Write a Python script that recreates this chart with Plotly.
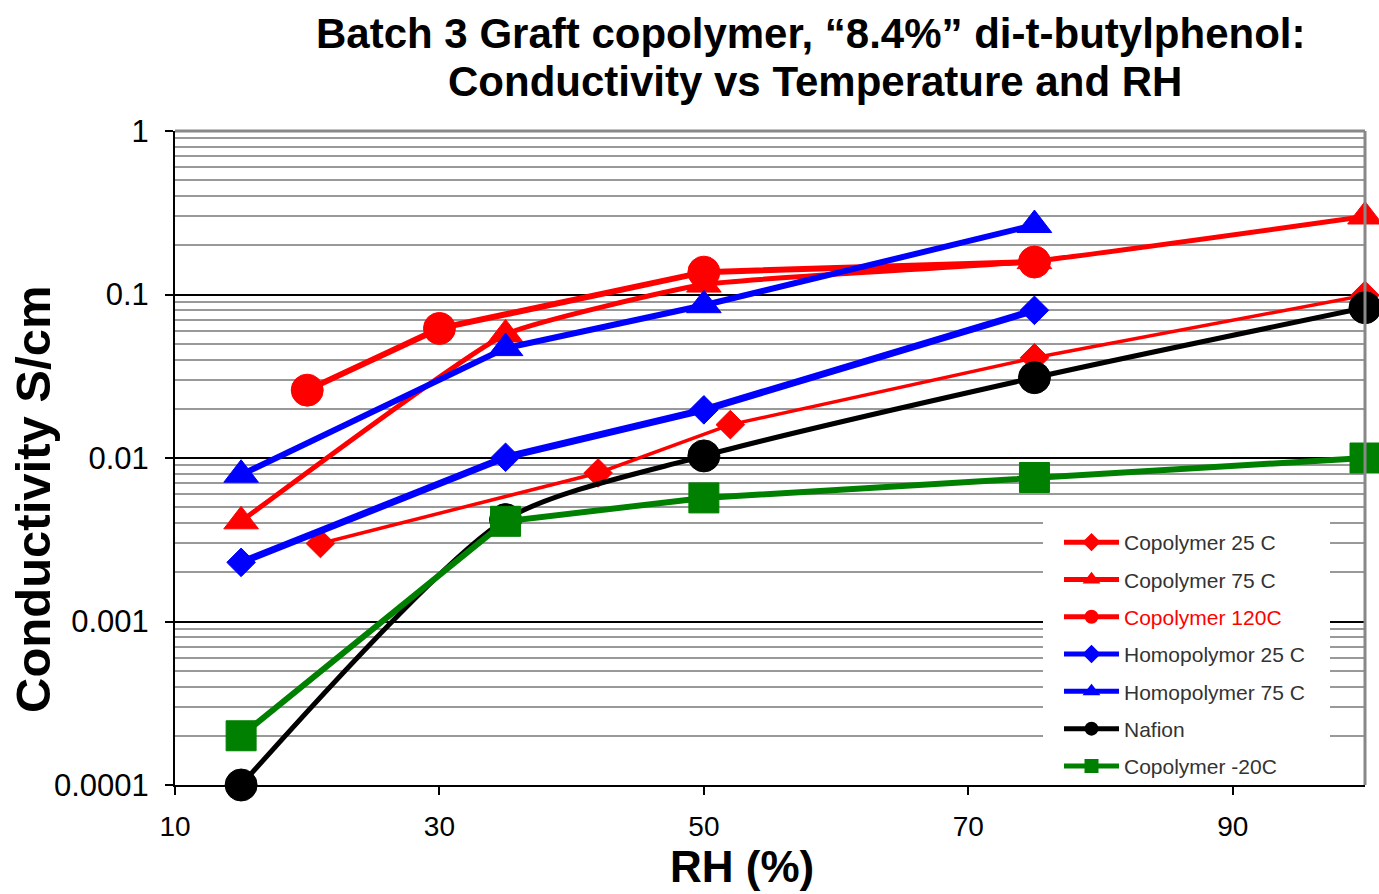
import plotly.graph_objects as go

# Relative humidity (%) and conductivity (S/cm) for each sample
rh_co25 = [21, 42, 52, 75, 100]
sig_co25 = [0.0030, 0.0081, 0.0160, 0.041, 0.099]

rh_co75 = [15, 35, 50, 75, 100]
sig_co75 = [0.0041, 0.057, 0.115, 0.160, 0.30]

rh_co120 = [20, 30, 50, 75]
sig_co120 = [0.026, 0.062, 0.137, 0.158]

rh_homo25 = [15, 35, 50, 75]
sig_homo25 = [0.0023, 0.0101, 0.0197, 0.080]

rh_homo75 = [15, 35, 50, 75]
sig_homo75 = [0.0079, 0.047, 0.086, 0.266]

rh_nafion = [15, 35, 50, 75, 100]
sig_nafion = [0.0001, 0.0042, 0.0103, 0.031, 0.083]

rh_com20 = [15, 35, 50, 75, 100]
sig_com20 = [0.0002, 0.0041, 0.0057, 0.0076, 0.0100]

x_ticks = [10, 30, 50, 70, 90]
y_ticks = [0.0001, 0.001, 0.01, 0.1, 1]
y_tick_text = ["0.0001", "0.001", "0.01", "0.1", "1"]
y_minor = [k * 10.0 ** e for e in range(-4, 0) for k in range(2, 10)]

FONT = "Liberation Sans, Arial, sans-serif"

# Plot area in pixels (left, right, top, bottom)
L, R, T, B = 175, 1365, 131, 785
W, H = 1379, 894


def px_x(p):
    return (p - L) / (R - L)


def px_y(p):
    return (B - p) / (B - T)


# name, x, y, colour, symbol, marker size, line width, smoothing
series = [
    ("Copolymer 25 C", rh_co25, sig_co25, "#ff0000", "diamond", 22, 3.5, 0),
    ("Copolymer 75 C", rh_co75, sig_co75, "#ff0000", "triangle-up", 30, 5, 0.4),
    ("<span style='color:#ff0000'>Copolymer 120C</span>", rh_co120, sig_co120,
     "#ff0000", "circle", 32, 6, 0),
    ("Homopolymor 25 C", rh_homo25, sig_homo25, "#0000ff", "diamond", 22, 7, 0),
    ("Homopolymer 75 C", rh_homo75, sig_homo75, "#0000ff", "triangle-up", 30, 6, 0),
    ("Nafion", rh_nafion, sig_nafion, "#000000", "circle", 32, 5, 0.7),
    ("Copolymer -20C", rh_com20, sig_com20, "#008000", "square", 30, 6, 0),
]

fig = go.Figure()
for i, (name, x, y, color, symbol, size, width, smooth) in enumerate(series):
    line = dict(color=color, width=width)
    if smooth:
        line.update(shape="spline", smoothing=smooth)
    fig.add_trace(go.Scatter(
        x=x, y=y, name=name, mode="lines+markers",
        legendgroup=f"g{i}",
        line=line,
        marker=dict(symbol=symbol, size=size, color=color,
                    line=dict(color=color, width=1)),
        cliponaxis=False,
    ))

fig.update_layout(
    width=W, height=H,
    margin=dict(l=L, r=W - R, t=T, b=H - B),
    paper_bgcolor="white", plot_bgcolor="white",
    font=dict(family=FONT, color="black"),
    showlegend=True,
    legend=dict(
        x=px_x(1059), y=px_y(522), xanchor="left", yanchor="top",
        bgcolor="rgba(255,255,255,0)", borderwidth=0,
        font=dict(size=21, color="#333333", family=FONT),
        tracegroupgap=7, traceorder="grouped",
        itemwidth=55, itemsizing="constant",
    ),
    xaxis=dict(
        range=[10, 100], tickvals=x_ticks, showgrid=False, zeroline=False,
        showline=True, linecolor="black", linewidth=2,
        ticks="outside", ticklen=8, tickwidth=2, tickcolor="black",
        ticklabelstandoff=7,
        tickfont=dict(size=28, family=FONT, color="black"),
    ),
    yaxis=dict(
        type="log", range=[-4, 0], tickvals=y_ticks, ticktext=y_tick_text,
        showgrid=True, gridcolor="black", gridwidth=2, zeroline=False,
        showline=True, linecolor="black", linewidth=2,
        ticks="outside", ticklen=8, tickwidth=2, tickcolor="black",
        ticklabelstandoff=10,
        tickfont=dict(size=31, family=FONT, color="black"),
        minor=dict(tickvals=y_minor, showgrid=True, gridcolor="#999999",
                   gridwidth=2, ticks=""),
    ),
    annotations=[
        dict(text="<b>Batch 3 Graft copolymer, \u201c8.4%\u201d di-t-butylphenol:</b>",
             xref="paper", yref="paper", x=px_x(810), y=px_y(33),
             xanchor="center", yanchor="middle", showarrow=False,
             font=dict(size=42, family=FONT, color="black")),
        dict(text="<b>Conductivity vs Temperature and RH</b>",
             xref="paper", yref="paper", x=px_x(815), y=px_y(81),
             xanchor="center", yanchor="middle", showarrow=False,
             font=dict(size=42, family=FONT, color="black")),
        dict(text="<b>RH (%)</b>", xref="paper", yref="paper",
             x=px_x(742), y=px_y(866), xanchor="center",
             yanchor="middle", showarrow=False,
             font=dict(size=44, family=FONT, color="black")),
        dict(text="<b>Conductivity S/cm</b>", xref="paper", yref="paper",
             x=px_x(33), y=px_y(500), xanchor="center",
             yanchor="middle", textangle=-90, showarrow=False,
             font=dict(size=49, family=FONT, color="black")),
    ],
    shapes=[
        # legend panel
        dict(type="rect", xref="paper", yref="paper", layer="above",
             x0=px_x(1043), x1=px_x(1330), y0=px_y(784), y1=px_y(522),
             fillcolor="white", line=dict(width=0)),
        dict(type="line", xref="paper", yref="paper", x0=1, x1=1, y0=0, y1=1,
             line=dict(color="#888888", width=3)),
        dict(type="line", xref="paper", yref="paper", x0=0, x1=1, y0=1, y1=1,
             line=dict(color="#888888", width=3)),
    ],
)

fig.write_html("out.html")
